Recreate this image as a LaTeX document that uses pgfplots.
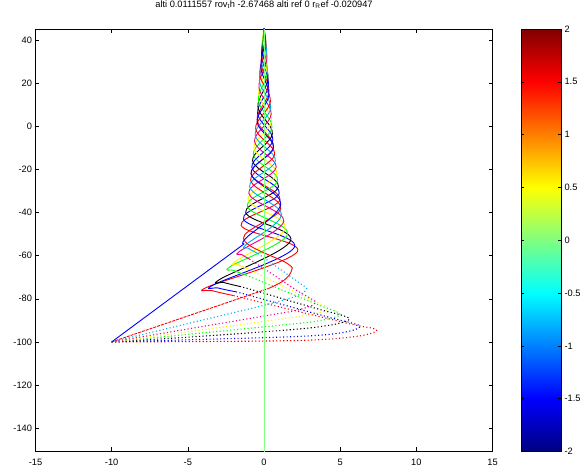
\documentclass[border=0pt]{standalone}
\usepackage{fontspec}
\setmainfont{Liberation Sans}
\usepackage{pgfplots}
\pgfplotsset{compat=1.18}
\definecolor{vline}{rgb}{0.5,1,0.5}
\newcommand{\lbl}{\fontsize{9.3}{11}\selectfont}

\pgfplotsset{
  path/.style={line width=0.9bp, smooth, tension=0.6, no markers},
  dots/.style={line width=1.1bp, smooth, tension=0.6, no markers, dash pattern=on 1.1bp off 2.4bp},
}

\begin{document}
\begin{tikzpicture}
\useasboundingbox (-35.5bp,-19.5bp) rectangle (548.5bp,451.5bp);
\begin{axis}[
  at={(0,0)}, anchor=south west,
  scale only axis, width=457bp, height=422.5bp,
  xmin=-15, xmax=15, ymin=-150.8, ymax=45.1,
  xtick={-15,-10,-5,0,5,10,15},
  xticklabels={-15,-10,-5,0,5,10,15},
  ytick={-140,-120,-100,-80,-60,-40,-20,0,20,40},
  yticklabels={-140,-120,-100,-80,-60,-40,-20,0,20,40},
  tick align=inside, major tick length=4bp,
  tick style={black, line width=0.6bp},
  axis line style={black, line width=0.8bp},
  ticklabel style={font=\lbl},
  xticklabel style={yshift=-4bp},
  title={alti 0.0111557 rov\textsubscript{t}h -2.67468 alti ref 0 r\textsubscript{R}ef -0.020947},
  title style={font=\lbl, at={(0.5,1)}, anchor=base, yshift=15.5bp},
  colormap/jet, point meta min=-2, point meta max=2,
  colorbar,
  colorbar/width=40bp,
  colorbar shift/.style={xshift=28.5bp},
  colorbar style={
    at={(parent axis.north east)}, anchor=north west,
    scale only axis, width=40bp, height=422.5bp,
    ytick={-2,-1.5,-1,-0.5,0,0.5,1,1.5,2},
    yticklabels={-2,-1.5,-1,-0.5,0,0.5,1,1.5,2},
    yticklabel pos=right, ytick pos=both,
    tick align=inside, major tick length=3bp,
    tick style={black, line width=0.6bp},
    axis line style={black, line width=0.8bp},
    ticklabel style={font=\lbl},
  },
]
% trajectory 1 (red, lowest)
\addplot[dots, red] coordinates {(-10,-100) (-4,-99.8) (1,-99.5) (4,-98.8) (6.2,-97.3) (7.3,-95.3) (7.2,-93.8) (6,-92.2) (3.5,-88) (0,-82) (-2,-78.5)};
\addplot[path, red] coordinates {(-2,-78.5) (-3.4,-76.2) (-3.7,-74.5) (2.2,-58) (-1.5,-46) (1.05,-34) (-0.85,-22) (0.62,-9.5) (-0.45,3) (0.32,16) (-0.18,29) (0.05,40) (0,47) (0,49)};
% trajectory 2 (blue)
\addplot[dots, blue] coordinates {(-10,-100) (-4,-98.8) (1,-97.8) (3.8,-96.8) (5.5,-95.2) (6.3,-93) (5.8,-91.3) (4.5,-89) (2,-84.2) (0,-80.3) (-1.8,-76.8)};
\addplot[path, blue] coordinates {(-1.8,-76.8) (-3.0,-75) (-3.3,-73.5) (2.0,-56) (-1.35,-43) (1.0,-31) (-0.8,-19) (0.58,-6.5) (-0.42,6) (0.29,19) (-0.15,32) (0,42) (0,49)};
% trajectory 3 (black)
\addplot[dots, black] coordinates {(-10,-100) (-5,-97.8) (0,-95.3) (3,-93.5) (4.8,-91.6) (5.6,-89.6) (5.2,-87.8) (4,-85.6) (2,-81.6) (0,-77.4) (-1.5,-74.4)};
\addplot[path, black] coordinates {(-1.5,-74.4) (-2.6,-72.5) (-2.9,-71) (1.75,-53) (-1.2,-40) (0.95,-28) (-0.75,-16) (0.55,-3.5) (-0.4,9) (0.26,22) (-0.12,35) (0,44) (0,49)};
% trajectory 4 (green)
\addplot[dots, green] coordinates {(-10,-100) (-5,-96.5) (0,-93) (2.8,-91) (4.3,-89.2) (5,-87.5) (4.7,-85.8) (3.5,-82.6) (1.8,-77.7) (0,-72.4) (-1.2,-68.9)};
\addplot[path, green] coordinates {(-1.2,-68.9) (-2.0,-66.8) (-2.2,-65) (1.55,-50) (-1.1,-37) (0.9,-25) (-0.7,-13) (0.52,-0.5) (-0.37,12) (0.22,25) (-0.08,38) (0,45) (0,49)};
% trajectory 5 (yellow)
\addplot[dots, yellow] coordinates {(-10,-100) (-5,-95.3) (0,-90.5) (2.5,-88) (3.7,-86.3) (4.2,-84.6) (3.9,-83) (2.8,-79.6) (1.4,-74.7) (0,-69.8) (-1,-66.3)};
\addplot[path, yellow] coordinates {(-1,-66.3) (-1.7,-64.2) (-1.9,-62.8) (1.4,-47) (-1.05,-34) (0.85,-22) (-0.66,-10) (0.5,2.5) (-0.35,15) (0.2,28) (-0.06,40) (0,47) (0,49)};
% trajectory 6 (magenta)
\addplot[dots, magenta] coordinates {(-10,-100) (-5,-94) (0,-88) (2,-85.5) (3,-83.5) (3.4,-81.7) (3.1,-80) (2.2,-76.3) (1,-70.7) (0,-66) (-0.9,-61.8)};
\addplot[path, magenta] coordinates {(-0.9,-61.8) (-1.45,-59.5) (-1.6,-58) (1.3,-44) (-1.0,-31) (0.8,-19) (-0.62,-7) (0.47,5.5) (-0.33,18) (0.18,31) (0,42) (0,49)};
% trajectory 7 (cyan)
\addplot[dots, cyan] coordinates {(-10,-100) (-5,-91.5) (0,-83) (1.8,-79.5) (2.6,-77) (2.8,-75.2) (2.5,-73.5) (1.6,-69) (0.6,-64) (-0.4,-59)};
\addplot[path, cyan] coordinates {(-0.4,-59) (-1.05,-56.5) (-1.2,-55) (1.15,-41) (-0.95,-28) (0.75,-16) (-0.58,-4) (0.44,8.5) (-0.3,21) (0.15,34) (0,44) (0,49)};
% trajectory 8 (red, upper)
\addplot[red, line width=0.9bp, dash pattern=on 3bp off 1bp] coordinates {(-10,-100) (0.3,-75.2)};
\addplot[path, red] coordinates {(0.3,-75.2) (1.3,-71.5) (1.8,-67) (1.5,-63.5) (-1.35,-52) (1.1,-38) (-0.88,-25) (0.7,-13) (-0.55,-1) (0.42,11.5) (-0.27,24) (0.12,37) (0,45) (0,49)};
% trajectory 9 (blue, upper)
\addplot[blue, line width=0.9bp] coordinates {(-10,-100) (-1.3,-54.5)};
\addplot[path, blue] coordinates {(-1.3,-54.5) (-1.2,-52) (1.1,-36) (-0.85,-22) (0.62,-10) (-0.45,2) (0.32,14.5) (-0.2,27) (0.06,39) (0,46) (0,49)};
% vertical reference line
\addplot[vline, line width=0.8bp] coordinates {(0,-150.8) (0,45.1)};
\end{axis}
\end{tikzpicture}
\end{document}
